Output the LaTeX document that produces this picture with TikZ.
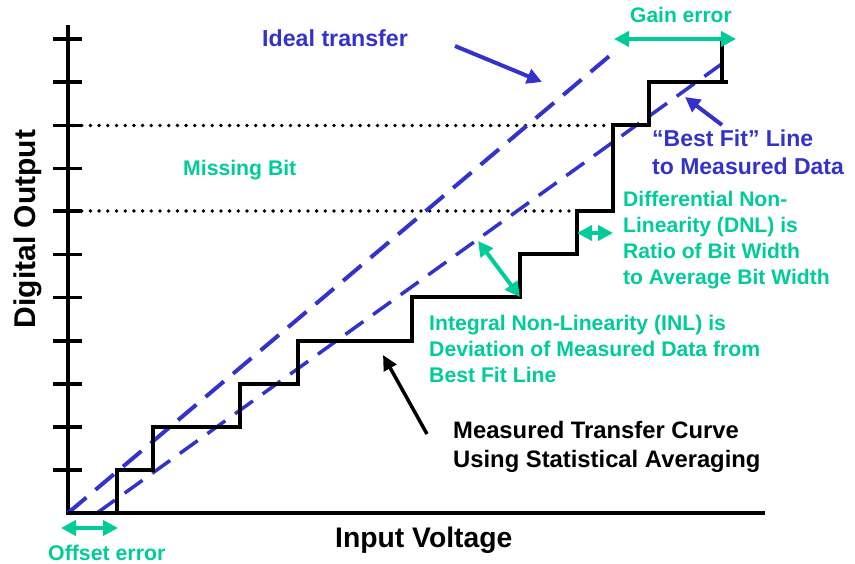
\documentclass[tikz,border=0pt]{standalone}
\usepackage{fontspec}
\setmainfont{Liberation Sans}
\usetikzlibrary{arrows.meta}
\definecolor{lineblue}{RGB}{51,51,204}
\definecolor{notegreen}{RGB}{0,204,153}
\tikzset{
  axisline/.style={line width=3.5pt, black},
  tickline/.style={line width=3.5pt, black},
  stairline/.style={line width=4pt, black, line join=miter},
  idealline/.style={line width=4pt, lineblue, dash pattern=on 24pt off 12pt},
  fitline/.style={line width=3.5pt, lineblue, dash pattern=on 22pt off 12pt},
  dotline/.style={line width=3.8pt, black, line cap=round, dash pattern=on 0pt off 8.7pt},
  bluearrow/.style={line width=4pt, lineblue, -{Triangle[length=15pt,width=15pt]}},
  blackarrow/.style={line width=3.5pt, black, -{Triangle[length=15pt,width=14pt]}},
  greenspan/.style={line width=4pt, notegreen, {Triangle[length=15pt,width=15pt]}-{Triangle[length=15pt,width=15pt]}},
  % multi-line labels are placed by the baseline of their last line
  lbl/.style={inner sep=0pt, font=\bfseries, anchor=base west, align=left},
}
\begin{document}
\begin{tikzpicture}[x=1pt, y=-1pt]
\useasboundingbox (0,0) rectangle (855,564);

% axes
\coordinate (O) at (68,513);
\coordinate (ytop) at (68,25);
\coordinate (xend) at (765,513);
\draw[axisline] (ytop) -- (O) -- (xend);
\foreach \ty in {470,427,384,341,297.5,254.5,211,168.5,125.5,82,39}
  \draw[tickline] (53,\ty) -- (82,\ty);

% dotted guides around the missing code
\draw[dotline] (73,125.5) -- (610,125.5);
\draw[dotline] (73,211) -- (574,211);

% ideal and best-fit transfer lines
\coordinate (idealend) at (613,53);
\coordinate (fitstart) at (97,513);
\coordinate (fitend) at (730,58);
\draw[idealline] (O) -- (idealend);
\draw[fitline] (fitstart) -- (fitend);

% measured staircase
\draw[stairline] (O) -- (117,513) -- (117,470) -- (153,470) -- (153,427)
  -- (240,427) -- (240,384) -- (298,384) -- (298,341) -- (412,341)
  -- (412,297.5) -- (520,297.5) -- (520,254.5) -- (577,254.5) -- (577,211)
  -- (613,211) -- (613,125.5) -- (649,125.5) -- (649,82) -- (728,82);
\draw[stairline] (722,82) -- (722,39);

% labels
\node[lbl, text=lineblue, font=\bfseries\fontsize{23.2}{28}\selectfont] (ideal) at (262,47) {Ideal transfer};
\node[lbl, text=notegreen, font=\bfseries\fontsize{21}{26}\selectfont] (gain) at (630,23) {Gain error};
\node[lbl, text=notegreen, font=\bfseries\fontsize{21.2}{26}\selectfont] (missing) at (183,176) {Missing Bit};
\node[lbl, text=notegreen, font=\bfseries\fontsize{21.3}{26}\selectfont] (offset) at (48,560) {Offset error};
\node[lbl, text=lineblue, font=\bfseries\fontsize{23}{28}\selectfont] (bestfit) at (652,175) {“Best Fit” Line\\to Measured Data};
\node[lbl, text=notegreen, font=\bfseries\fontsize{21.1}{26}\selectfont] (dnl) at (623,285) {Differential Non-\\Linearity (DNL) is\\Ratio of Bit Width\\to Average Bit Width};
\node[lbl, text=notegreen, font=\bfseries\fontsize{21.2}{25.8}\selectfont] (inl) at (429,382) {Integral Non-Linearity (INL) is\\Deviation of Measured Data from\\Best Fit Line};
\node[lbl, text=black, font=\bfseries\fontsize{23.8}{28.5}\selectfont] (measured) at (453,467) {Measured Transfer Curve\\Using Statistical Averaging};
\node[lbl, text=black, font=\bfseries\fontsize{28.3}{30}\selectfont] (xlabel) at (335,547) {Input Voltage};
\node[inner sep=0pt, rotate=90, anchor=base, font=\bfseries\fontsize{30}{32}\selectfont] (ylabel) at (35,229) {Digital Output};

% pointer arrows
\coordinate (idealtail) at (455,46);
\coordinate (idealtip) at (542,82);
\draw[bluearrow] (idealtail) -- (idealtip);
\coordinate (fittail) at (722,125);
\coordinate (fittip) at (685,97);
\draw[bluearrow] (fittail) -- (fittip);
\coordinate (meastail) at (427,434);
\coordinate (meastip) at (383,355);
\draw[blackarrow] (meastail) -- (meastip);

% error spans
\coordinate (gainL) at (614,39);
\coordinate (gainR) at (736,39);
\draw[greenspan] (gainL) -- (gainR);
\coordinate (offL) at (61,528);
\coordinate (offR) at (118,528);
\draw[greenspan] (offL) -- (offR);
\coordinate (dnlL) at (577,233);
\coordinate (dnlR) at (613,233);
\draw[greenspan] (dnlL) -- (dnlR);
\coordinate (inlA) at (478,241);
\coordinate (inlB) at (520,297);
\draw[greenspan] (inlA) -- (inlB);
\end{tikzpicture}
\end{document}
